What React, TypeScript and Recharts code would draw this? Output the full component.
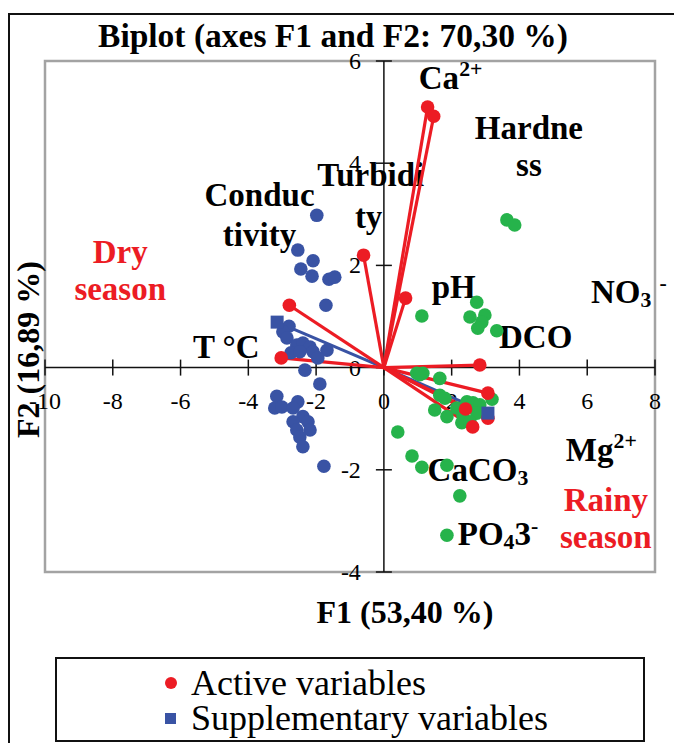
import React from 'react';
import { ScatterChart, Scatter, XAxis, YAxis, ReferenceLine, ReferenceDot, ReferenceArea } from 'recharts';

const FONT = '"Liberation Serif", "Times New Roman", serif';
const RED = '#ec1c24';
const BLUE = '#3953a4';
const GREEN = '#26b34b';

// Active variables (loadings, scaled)
const activeVars = [
  { x: 1.29, y: 5.10 }, { x: 1.47, y: 4.92 }, { x: 0.64, y: 1.36 }, { x: -0.60, y: 2.20 },
  { x: -2.79, y: 1.22 }, { x: -3.03, y: 0.19 }, { x: 2.83, y: 0.05 }, { x: 3.07, y: -0.50 },
  { x: 2.41, y: -0.81 }, { x: 2.62, y: -1.16 }, { x: 3.07, y: -0.99 },
];
// Supplementary variables
const suppVars = [ { x: -3.15, y: 0.89 }, { x: 3.07, y: -0.89 } ];

// Observations: dry season (blue)
const dryObs = [
  { x: -1.98, y: 2.98 }, { x: -2.54, y: 2.30 }, { x: -2.09, y: 2.09 }, { x: -2.45, y: 1.93 },
  { x: -2.12, y: 1.79 }, { x: -1.62, y: 1.73 }, { x: -1.45, y: 1.77 }, { x: -1.71, y: 1.22 },
  { x: -2.80, y: 0.81 }, { x: -2.98, y: 0.70 }, { x: -2.86, y: 0.58 }, { x: -2.57, y: 0.44 },
  { x: -2.39, y: 0.48 }, { x: -2.18, y: 0.40 }, { x: -2.09, y: 0.31 }, { x: -1.68, y: 0.34 },
  { x: -2.74, y: 0.29 }, { x: -2.48, y: 0.31 }, { x: -1.95, y: 0.19 }, { x: -2.33, y: -0.05 },
  { x: -1.89, y: -0.32 }, { x: -3.16, y: -0.56 }, { x: -3.22, y: -0.79 }, { x: -3.01, y: -0.77 },
  { x: -2.54, y: -0.67 }, { x: -2.68, y: -0.79 }, { x: -2.39, y: -0.96 }, { x: -2.68, y: -1.06 },
  { x: -2.24, y: -1.06 }, { x: -2.57, y: -1.22 }, { x: -2.18, y: -1.22 }, { x: -2.48, y: -1.36 },
  { x: -2.39, y: -1.55 }, { x: -1.77, y: -1.93 },
];
// Observations: rainy season (green)
const rainyObs = [
  { x: 3.63, y: 2.89 }, { x: 3.86, y: 2.79 }, { x: 2.74, y: 1.28 }, { x: 1.12, y: 1.01 },
  { x: 2.54, y: 0.99 }, { x: 2.98, y: 1.03 }, { x: 2.89, y: 0.89 }, { x: 2.77, y: 0.77 },
  { x: 3.33, y: 0.72 }, { x: 0.97, y: -0.11 }, { x: 1.15, y: -0.11 }, { x: 1.06, y: -0.14 },
  { x: 1.65, y: -0.21 }, { x: 3.19, y: -0.62 }, { x: 1.65, y: -0.54 }, { x: 1.80, y: -0.60 },
  { x: 2.45, y: -0.67 }, { x: 2.63, y: -0.69 }, { x: 2.83, y: -0.73 }, { x: 1.50, y: -0.83 },
  { x: 2.15, y: -0.79 }, { x: 1.86, y: -0.96 }, { x: 2.33, y: -0.93 }, { x: 2.74, y: -0.89 },
  { x: 2.30, y: -1.08 }, { x: 2.54, y: -1.06 }, { x: 0.41, y: -1.26 }, { x: 0.83, y: -1.73 },
  { x: 1.12, y: -1.95 }, { x: 1.86, y: -1.91 }, { x: 2.24, y: -2.51 }, { x: 1.86, y: -3.28 },
];

const xTicks = [-10, -8, -6, -4, -2, 0, 2, 4, 6, 8];
const yTicks = [-4, -2, 0, 2, 4, 6];

type Seg = [string, 'n' | 'sup' | 'sub'];
// Variable / season annotations (data coordinates of the text anchor)
const annotations: { x: number; y: number; anchor: string; color: string; segs: Seg[] }[] = [
  { x: 1.03, y: 5.67, anchor: 'start', color: '#000', segs: [['Ca', 'n'], ['2+', 'sup']] },
  { x: 4.28, y: 4.69, anchor: 'middle', color: '#000', segs: [['Hardne', 'n']] },
  { x: 4.28, y: 3.96, anchor: 'middle', color: '#000', segs: [['ss', 'n']] },
  { x: -0.39, y: 3.77, anchor: 'middle', color: '#000', segs: [['Turbidi', 'n']] },
  { x: -0.45, y: 2.95, anchor: 'middle', color: '#000', segs: [['ty', 'n']] },
  { x: -3.67, y: 3.38, anchor: 'middle', color: '#000', segs: [['Conduc', 'n']] },
  { x: -3.67, y: 2.59, anchor: 'middle', color: '#000', segs: [['tivity', 'n']] },
  { x: -7.78, y: 2.26, anchor: 'middle', color: RED, segs: [['Dry', 'n']] },
  { x: -7.78, y: 1.53, anchor: 'middle', color: RED, segs: [['season', 'n']] },
  { x: 2.06, y: 1.58, anchor: 'middle', color: '#000', segs: [['pH', 'n']] },
  { x: 6.11, y: 1.48, anchor: 'start', color: '#000', segs: [['NO', 'n'], ['3', 'sub'], [' ', 'n'], ['-', 'sup']] },
  { x: 4.48, y: 0.60, anchor: 'middle', color: '#000', segs: [['DCO', 'n']] },
  { x: -4.65, y: 0.40, anchor: 'middle', color: '#000', segs: [['T °C', 'n']] },
  { x: 5.37, y: -1.61, anchor: 'start', color: '#000', segs: [['Mg', 'n'], ['2+', 'sup']] },
  { x: 1.29, y: -2.00, anchor: 'start', color: '#000', segs: [['CaCO', 'n'], ['3', 'sub']] },
  { x: 6.55, y: -2.59, anchor: 'middle', color: RED, segs: [['Rainy', 'n']] },
  { x: 6.55, y: -3.32, anchor: 'middle', color: RED, segs: [['season', 'n']] },
  { x: 2.18, y: -3.26, anchor: 'start', color: '#000', segs: [['PO', 'n'], ['4', 'sub'], ['3', 'n'], ['-', 'sup']] },
];

const LABEL_SIZE = 33;

function RichText({ cx, cy, segs, anchor, color }: any) {
  let cur = 0;
  const spans = segs.map(([t, k]: Seg, i: number) => {
    const target = k === 'sup' ? -LABEL_SIZE * 0.26 : k === 'sub' ? LABEL_SIZE * 0.24 : 0;
    const dy = target - cur;
    cur = target;
    return (
      <tspan key={i} dy={dy} fontSize={k === 'n' ? LABEL_SIZE : LABEL_SIZE * 0.66}>{t}</tspan>
    );
  });
  return (
    <text x={cx} y={cy} textAnchor={anchor} dominantBaseline="central" fill={color}
      fontWeight="bold" fontSize={LABEL_SIZE} fontFamily={FONT}>{spans}</text>
  );
}

const circleShape = (fill: string) => (p: any) => <circle cx={p.cx} cy={p.cy} r={6.8} fill={fill} />;
const squareShape = (p: any) => <rect x={p.cx - 6.5} y={p.cy - 6.5} width={13} height={13} fill={BLUE} />;
const noShape = () => <g />;

export default function App() {
  const origin = { x: 0, y: 0 };
  return (
    <div style={{ position: 'relative', width: 674, height: 743, overflow: 'hidden', background: '#fff', fontFamily: FONT }}>
      <style>{'html,body{margin:0;padding:0;overflow:hidden;background:#fff}'}</style>
      <div style={{ position: 'absolute', left: 8, top: 13, width: 720, height: 800, border: '2px solid #111', boxSizing: 'border-box' }} />
      <div style={{ position: 'absolute', left: 0, top: 20, width: 666, textAlign: 'center', fontSize: 33.5, lineHeight: '32px', fontWeight: 'bold', color: '#000' }}>
        Biplot (axes F1 and F2: 70,30 %)
      </div>
      <div style={{ position: 'absolute', left: 0, top: 0 }}>
        <ScatterChart width={674} height={743} margin={{ top: 61, right: 19, bottom: 131, left: 0 }}>
          <XAxis type="number" dataKey="x" domain={[-10, 8]} ticks={xTicks} tick={false} axisLine={false} tickLine={false}
            height={40} allowDataOverflow
            label={(p: any) => {
              const vb = p.viewBox || { x: 45, y: 572, width: 609, height: 40 };
              return (
                <text x={vb.x + vb.width / 2 + 55} y={vb.y + 40} textAnchor="middle" dominantBaseline="central"
                  fontSize={32} fontWeight="bold" fontFamily={FONT} fill="#000">F1 (53,40 %)</text>
              );
            }} />
          <YAxis type="number" dataKey="y" domain={[-4, 6]} ticks={yTicks} tick={false} axisLine={false} tickLine={false}
            width={45} allowDataOverflow
            label={(p: any) => {
              const vb = p.viewBox || { x: 0, y: 61, width: 45, height: 511 };
              const cx = vb.x + 28;
              const cy = vb.y + vb.height / 2 + 33;
              return (
                <text x={cx} y={cy} textAnchor="middle" dominantBaseline="central" transform={`rotate(-90 ${cx} ${cy})`}
                  fontSize={32} fontWeight="bold" fontFamily={FONT} fill="#000">F2 (16,89 %)</text>
              );
            }} />

          <ReferenceArea x1={-10} x2={8} y1={-4} y2={6} fill="none" stroke="#a3a3a3" strokeWidth={2.5} ifOverflow="visible" />
          <ReferenceLine y={0} stroke="#111" strokeWidth={1.5} />
          <ReferenceLine x={0} stroke="#111" strokeWidth={1.5} />

          {xTicks.map((v) => (
            <ReferenceDot key={'xt' + v} x={v} y={0} r={0} ifOverflow="visible"
              shape={(p: any) => (
                <g>
                  <line x1={p.cx} x2={p.cx} y1={p.cy - 8} y2={p.cy + 8} stroke="#111" strokeWidth={1.5} />
                  <text x={p.cx} y={p.cy + 33} textAnchor="middle" dominantBaseline="central" fontSize={24} fontFamily={FONT} fill="#000">{v}</text>
                </g>
              )} />
          ))}
          {yTicks.map((v) => (
            <ReferenceDot key={'yt' + v} x={0} y={v} r={0} ifOverflow="visible"
              shape={(p: any) => (
                <g>
                  <line x1={p.cx - 8} x2={p.cx + 8} y1={p.cy} y2={p.cy} stroke="#111" strokeWidth={1.5} />
                  <text x={p.cx - 23} y={p.cy} textAnchor="end" dominantBaseline="central" fontSize={24} fontFamily={FONT} fill="#000">{v}</text>
                </g>
              )} />
          ))}

          {annotations.map((a, i) => (
            <ReferenceDot key={'an' + i} x={a.x} y={a.y} r={0} ifOverflow="visible"
              shape={(p: any) => <RichText cx={p.cx} cy={p.cy} segs={a.segs} anchor={a.anchor} color={a.color} />} />
          ))}

          {suppVars.map((p, i) => (
            <Scatter key={'sl' + i} data={[origin, p]} fill={BLUE} line={{ stroke: BLUE, strokeWidth: 3 }} shape={noShape} isAnimationActive={false} />
          ))}
          {activeVars.map((p, i) => (
            <Scatter key={'al' + i} data={[origin, p]} fill={RED} line={{ stroke: RED, strokeWidth: 3.2 }} shape={noShape} isAnimationActive={false} />
          ))}
          <Scatter data={dryObs} fill={BLUE} shape={circleShape(BLUE)} isAnimationActive={false} />
          <Scatter data={rainyObs} fill={GREEN} shape={circleShape(GREEN)} isAnimationActive={false} />
          <Scatter data={activeVars} fill={RED} shape={circleShape(RED)} isAnimationActive={false} />
          <Scatter data={suppVars} fill={BLUE} shape={squareShape} isAnimationActive={false} />
        </ScatterChart>
      </div>
      <div style={{ position: 'absolute', left: 55, top: 657, width: 590, height: 85, border: '2px solid #111', boxSizing: 'border-box', background: '#fff' }}>
        <div style={{ position: 'absolute', left: 108, top: 7, height: 34, display: 'flex', alignItems: 'center', fontSize: 36, lineHeight: '34px', color: '#000' }}>
          <span style={{ display: 'inline-block', width: 12, height: 12, borderRadius: 6, background: RED, marginRight: 14 }} />
          Active variables
        </div>
        <div style={{ position: 'absolute', left: 108, top: 42, height: 34, display: 'flex', alignItems: 'center', fontSize: 36, lineHeight: '34px', color: '#000' }}>
          <span style={{ display: 'inline-block', width: 11, height: 11, background: BLUE, marginRight: 15 }} />
          Supplementary variables
        </div>
      </div>
    </div>
  );
}
